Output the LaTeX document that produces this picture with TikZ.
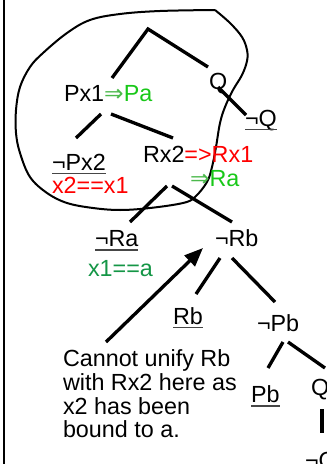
\documentclass[tikz,border=0pt]{standalone}
\usepackage{fontspec}
\setmainfont{Liberation Sans}
\newfontfamily\dv{DejaVu Sans}
\usetikzlibrary{arrows.meta}
\definecolor{tred}{RGB}{255,0,0}
\definecolor{tgreen}{RGB}{25,200,25}
\definecolor{agreen}{RGB}{75,185,75}
\definecolor{dgreen}{RGB}{20,150,70}
\definecolor{ulgray}{RGB}{70,70,70}
\newcommand{\imp}{{\dv ⇒}}
\tikzset{
  lbl/.style={anchor=base west, inner sep=0pt, outer sep=0pt, font=\fontsize{17.5pt}{17.8pt}\selectfont},
  edge/.style={line width=2.5pt},
  ul/.style={line width=0.8pt, ulgray},
  blob/.style={line width=1.5pt, line join=round},
}
\begin{document}
\begin{tikzpicture}[x=0.75pt,y=-0.75pt]
\useasboundingbox (0,0) rectangle (327,464);
\clip (0,0) rectangle (327,464);
\fill[white] (0,0) rectangle (327,464);
% left border
\draw[line width=1.5pt] (3.5,0) -- (3.5,464);
% blob
\draw[blob] plot[smooth, tension=0.6] coordinates {(215,10) (230,23) (242,37) (247,50) (247,61) (242,75) (233,90) (225,107) (220,123) (216,147) (212,167) (207,182) (195,197) (183,203) (150,208) (120,210) (93,208) (67,203) (47,193) (30,177) (20,153) (16,133) (16,110) (20,87) (30,67) (43,53) (67,33) (90,20) (120,14) (160,11) (215,10)};
% labels
\node[lbl] (px1) at (64,101.5) {Px1\textcolor{agreen}{\imp}\textcolor{tgreen}{Pa}};
\node[lbl] (q1) at (209,89) {Q};
\node[lbl] (nq1) at (245,126) {¬Q};
\node[lbl] (npx2) at (52,170) {¬Px2};
\node[lbl, text=tred] (bx2) at (52,193) {x2==x1};
\node[lbl] (rx2) at (143,162.5) {Rx2\textcolor{tred}{=>Rx1}};
\node[lbl] (ra) at (190,186.5) {\textcolor{agreen}{\imp}\textcolor{tgreen}{Ra}};
\node[lbl] (nra) at (95,246.5) {¬Ra};
\node[lbl, text=dgreen] (bx1) at (88,276.5) {x1==a};
\node[lbl] (nrb) at (215,246.5) {¬Rb};
\node[lbl] (rb) at (173,324) {Rb};
\node[lbl] (npb) at (257,331.5) {¬Pb};
\node[lbl] (pb) at (251,402.5) {Pb};
\node[lbl] (q2) at (311,395) {Q};
\node[lbl] (nq2) at (305,468) {¬Q};
\node[lbl, align=left] (note) at (63,437.8) {Cannot unify Rb\\with Rx2 here as\\x2 has been\\bound to a.};
% underlines
\foreach \n in {nq1,npx2,nra,rb,pb}
  \draw[ul] ([yshift=-2.6pt]\n.base west) -- ([yshift=-2.6pt]\n.base east);
% tree edge end points
\coordinate (apex) at (148,29);
\coordinate (aL) at (112,78);
\coordinate (aR) at (208,67);
\coordinate (qS) at (218,87);
\coordinate (qE) at (246,115);
\coordinate (pS1) at (101,114);
\coordinate (pE1) at (76,138);
\coordinate (pS2) at (111,114);
\coordinate (pE2) at (173,138);
\coordinate (rS1) at (167,186);
\coordinate (rE1) at (130,222);
\coordinate (rS2) at (172,186);
\coordinate (rE2) at (232,222);
\coordinate (bS1) at (220,258);
\coordinate (bE1) at (196,294);
\coordinate (bS2) at (232,258);
\coordinate (bE2) at (275,302);
\coordinate (cS1) at (283,342);
\coordinate (cE1) at (268,368);
\coordinate (cS2) at (288,342);
\coordinate (cE2) at (325,368);
\coordinate (dS) at (322,409);
\coordinate (dE) at (322,433);
\coordinate (arS) at (106,342);
\coordinate (arE) at (203,248);
\draw[edge] (aL) -- (apex) -- (aR);
\draw[edge] (qS) -- (qE);
\draw[edge] (pS1) -- (pE1);
\draw[edge] (pS2) -- (pE2);
\draw[edge] (rS1) -- (rE1);
\draw[edge] (rS2) -- (rE2);
\draw[edge] (bS1) -- (bE1);
\draw[edge] (bS2) -- (bE2);
\draw[edge] (cS1) -- (cE1);
\draw[edge] (cS2) -- (cE2);
\draw[edge] (dS) -- (dE);
\draw[edge, -{Triangle[length=14pt,width=11pt]}] (arS) -- (arE);
\end{tikzpicture}
\end{document}
